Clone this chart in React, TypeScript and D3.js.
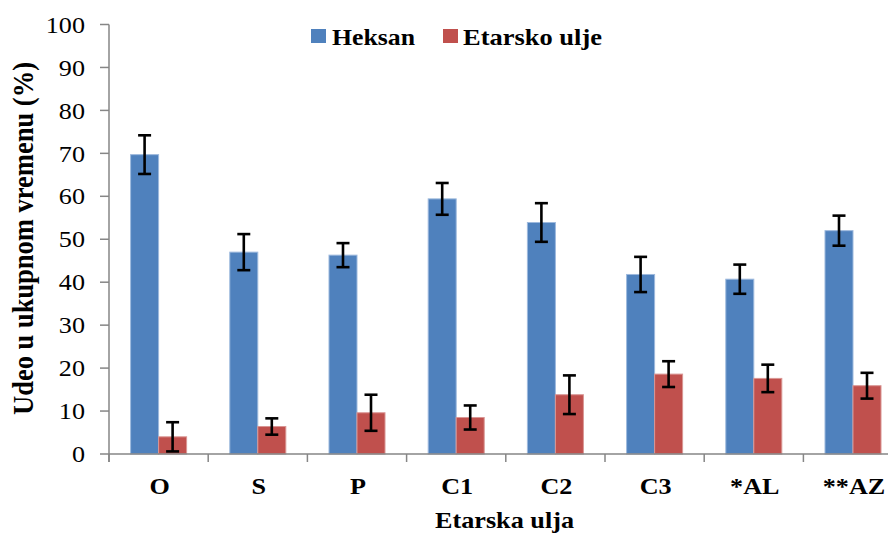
import React from "react";
import * as d3 from "d3";

const categories = ["O", "S", "P", "C1", "C2", "C3", "*AL", "**AZ"];
const series = ["Heksan", "Etarsko ulje"];
const heksan = [69.7, 47.0, 46.3, 59.4, 53.9, 41.8, 40.7, 52.0];
const heksanErr = [4.5, 4.2, 2.8, 3.7, 4.5, 4.1, 3.4, 3.5];
const ulje = [4.0, 6.4, 9.6, 8.5, 13.8, 18.6, 17.6, 15.9];
const uljeErr = [3.4, 1.9, 4.2, 2.8, 4.5, 3.0, 3.2, 3.0];
const yTicks = [0, 10, 20, 30, 40, 50, 60, 70, 80, 90, 100];
const colors = ["#4F81BD", "#C0504D"];
const strokes = ["#9DB9DD", "#D99694"];

const W = 888;
const H = 536;
const X0 = 109;
const STEP = 99.2;
const FONT = "'Liberation Serif', 'Times New Roman', serif";
const AXIS = "#868686";
const SX = 1.09;

export default function App() {
  const x = d3
    .scaleBand<string>()
    .domain(categories)
    .range([X0, X0 + STEP * categories.length])
    .paddingInner(0)
    .paddingOuter(0);
  const xs = d3
    .scaleBand<string>()
    .domain(series)
    .range([0, x.bandwidth()])
    .paddingInner(0)
    .paddingOuter(0.771);
  const y = d3.scaleLinear().domain([0, 100]).range([454, 24.5]);
  const values = [heksan, ulje];
  const errs = [heksanErr, uljeErr];
  const cap = 6.5;

  return (
    <svg
      width={W}
      height={H}
      style={{ position: "absolute", left: 0, top: 0, background: "#fff" }}
      fontFamily={FONT}
    >
      {/* bars */}
      {series.map((s, si) =>
        categories.map((c, ci) => {
          const bx = (x(c) as number) + (xs(s) as number);
          const v = values[si][ci];
          return (
            <rect
              key={s + c}
              x={bx}
              y={y(v)}
              width={xs.bandwidth()}
              height={y(0) - y(v)}
              fill={colors[si]}
              stroke={strokes[si]}
              strokeWidth={1}
            />
          );
        })
      )}
      {/* axes */}
      <line x1={X0} x2={X0} y1={y(100)} y2={462} stroke={AXIS} strokeWidth={1.5} />
      <line x1={X0} x2={W} y1={y(0)} y2={y(0)} stroke={AXIS} strokeWidth={1.5} />
      {yTicks.map((t) => (
        <g key={t}>
          <line x1={100} x2={X0} y1={y(t)} y2={y(t)} stroke={AXIS} strokeWidth={1.5} />
          <text
            transform={`translate(85,${y(t)}) scale(${SX},1)`}
            dy="0.34em"
            textAnchor="end"
            fontSize={24}
            fill="#000"
          >
            {t}
          </text>
        </g>
      ))}
      {categories.map((c) => (
        <line
          key={"xt" + c}
          x1={x(c) as number}
          x2={x(c) as number}
          y1={y(0)}
          y2={462}
          stroke={AXIS}
          strokeWidth={1.5}
        />
      ))}
      {/* error bars */}
      {series.map((s, si) =>
        categories.map((c, ci) => {
          const cx = (x(c) as number) + (xs(s) as number) + xs.bandwidth() / 2;
          const v = values[si][ci];
          const e = errs[si][ci];
          return (
            <g key={"e" + s + c} stroke="#000" strokeWidth={2.6}>
              <line x1={cx} x2={cx} y1={y(v + e)} y2={y(v - e)} />
              <line x1={cx - cap} x2={cx + cap} y1={y(v + e)} y2={y(v + e)} />
              <line x1={cx - cap} x2={cx + cap} y1={y(v - e)} y2={y(v - e)} />
            </g>
          );
        })
      )}
      {/* x tick labels */}
      {categories.map((c) => (
        <text
          key={"xl" + c}
          transform={`translate(${(x(c) as number) + x.bandwidth() / 2 + 1},494) scale(${SX},1)`}
          textAnchor="middle"
          fontSize={24}
          fontWeight="bold"
        >
          {c}
        </text>
      ))}
      {/* axis titles */}
      <text
        transform={`translate(435,528) scale(${SX},1)`}
        fontSize={24}
        fontWeight="bold"
        textLength={139 / SX}
        lengthAdjust="spacingAndGlyphs"
      >
        Etarska ulja
      </text>
      <text
        transform="translate(33,415) scale(1.12,1) rotate(-90)"
        x={0}
        y={0}
        fontSize={27}
        fontWeight="bold"
        textLength={353}
        lengthAdjust="spacingAndGlyphs"
      >
        Udeo u ukupnom vremenu (%)
      </text>
      {/* legend */}
      <rect x={311} y={29} width={15} height={14} fill={colors[0]} />
      <text
        transform={`translate(332,45) scale(${SX},1)`}
        fontSize={24}
        fontWeight="bold"
        textLength={83 / SX}
        lengthAdjust="spacingAndGlyphs"
      >
        {series[0]}
      </text>
      <rect x={443} y={29} width={15} height={14} fill={colors[1]} />
      <text
        transform={`translate(463,45) scale(${SX},1)`}
        fontSize={24}
        fontWeight="bold"
        textLength={139 / SX}
        lengthAdjust="spacingAndGlyphs"
      >
        {series[1]}
      </text>
    </svg>
  );
}
